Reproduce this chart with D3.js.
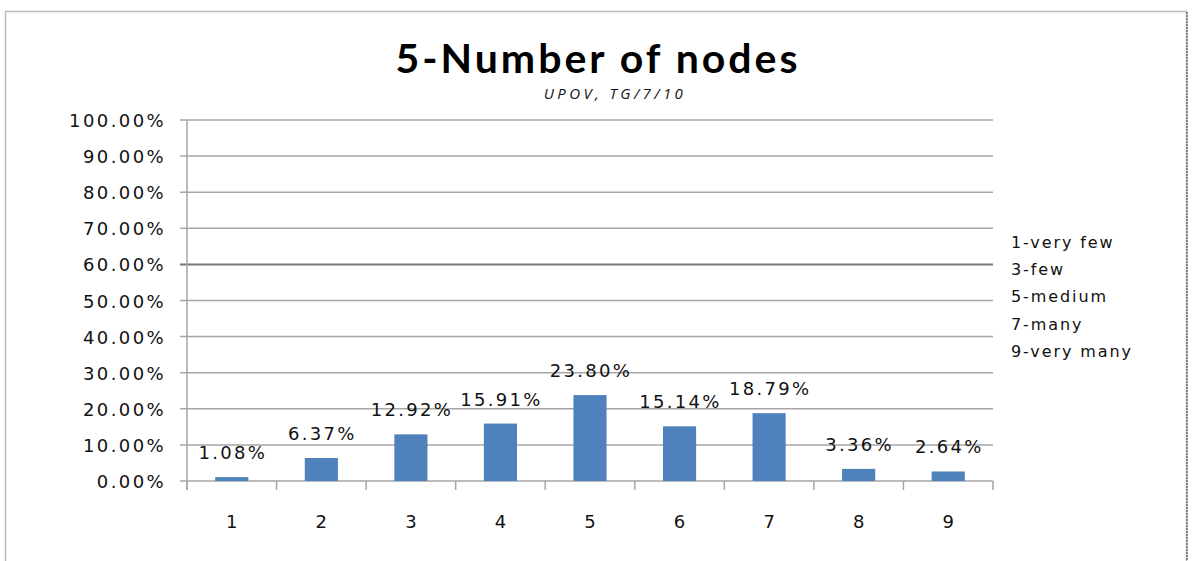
<!DOCTYPE html>
<html><head><meta charset="utf-8">
<script src="https://cdn.jsdelivr.net/npm/d3@7"></script>
<style>body{margin:0;background:#fff;}svg{display:block;}</style>
</head><body>
<svg id="chart" width="1194" height="561"></svg>
<script>
const categories = ["1","2","3","4","5","6","7","8","9"];
const values = [1.08, 6.37, 12.92, 15.91, 23.80, 15.14, 18.79, 3.36, 2.64];
const yTicks = [0,10,20,30,40,50,60,70,80,90,100];
const legendItems = ["1-very few","3-few","5-medium","7-many","9-very many"];
const title = "5-Number of nodes";
const subtitle = "UPOV, TG/7/10";

(function(){
const svg = d3.select("#chart");
// frame
svg.append("rect").attr("x",5.5).attr("y",11.5).attr("width",1181).attr("height",560)
  .attr("fill","#fff").attr("stroke","#bbb").attr("stroke-width",1.5);
svg.append("line").attr("x1",1187).attr("x2",1187).attr("y1",12).attr("y2",561)
  .attr("stroke","#888").attr("stroke-width",2).attr("stroke-dasharray","2,1");

const pL=187, pR=993, pT=120, pB=481;
const x = d3.scaleBand().domain(categories).range([pL,pR]).paddingInner(0.63).paddingOuter(0.315);
const xb = d3.scaleBand().domain(categories).range([pL,pR]);
const y = d3.scaleLinear().domain([0,100]).range([pB,pT]);

// gridlines
svg.append("g").selectAll("line").data(yTicks).join("line")
  .attr("x1",pL-7).attr("x2",pR).attr("y1",d=>y(d)).attr("y2",d=>y(d))
  .attr("stroke",d=>d===60?"#777":"#a6a6a6").attr("stroke-width",d=>d===60?2:1.5);

// y axis line
svg.append("line").attr("x1",pL).attr("x2",pL).attr("y1",pT).attr("y2",pB+9)
  .attr("stroke","#a6a6a6").attr("stroke-width",1.5);

// y tick labels
svg.append("g").selectAll("text").data(yTicks).join("text")
  .attr("x",166).attr("y",d=>y(d)+7).attr("text-anchor","end")
  .attr("font-family","DejaVu Sans").attr("font-size",18).attr("letter-spacing",2.4)
  .attr("fill","#111").text(d=>d3.format(".2f")(d)+"%");

// x axis ticks at band boundaries
const bounds = categories.map(c=>xb(c)).concat([pR]);
svg.append("g").selectAll("line").data(bounds).join("line")
  .attr("x1",d=>d).attr("x2",d=>d).attr("y1",pB).attr("y2",pB+9)
  .attr("stroke","#a6a6a6").attr("stroke-width",1.5);

// bars
svg.append("g").selectAll("rect").data(values).join("rect")
  .attr("x",(d,i)=>x(categories[i])).attr("width",x.bandwidth())
  .attr("y",d=>y(d)).attr("height",d=>pB-y(d)).attr("fill","#4f81bd");

// data labels
svg.append("g").selectAll("text").data(values).join("text")
  .attr("x",(d,i)=>x(categories[i])+x.bandwidth()/2+1).attr("y",d=>y(d)-18)
  .attr("text-anchor","middle").attr("font-family","DejaVu Sans").attr("font-size",18)
  .attr("letter-spacing",2.3).attr("fill","#111").text(d=>d3.format(".2f")(d)+"%");

// x labels
svg.append("g").selectAll("text").data(categories).join("text")
  .attr("x",d=>xb(d)+xb.bandwidth()/2).attr("y",528).attr("text-anchor","middle")
  .attr("font-family","DejaVu Sans").attr("font-size",18).attr("fill","#111").text(d=>d);

// title
svg.append("text").attr("x",598).attr("y",73).attr("text-anchor","middle")
  .attr("font-family","Lato").attr("font-weight","bold").attr("font-size",41)
  .attr("letter-spacing",3).attr("fill","#000").text(title);
svg.append("text").attr("x",615).attr("y",99).attr("text-anchor","middle")
  .attr("font-family","Open Sans").attr("font-style","italic").attr("font-size",15)
  .attr("letter-spacing",3.4).attr("fill","#111").text(subtitle);

// legend
svg.append("g").selectAll("text").data(legendItems).join("text")
  .attr("x",1011).attr("y",(d,i)=>248+i*27.2)
  .attr("font-family","DejaVu Sans").attr("font-size",16).attr("letter-spacing",1.9)
  .attr("fill","#111").text(d=>d);
})();
</script>
</body></html>
